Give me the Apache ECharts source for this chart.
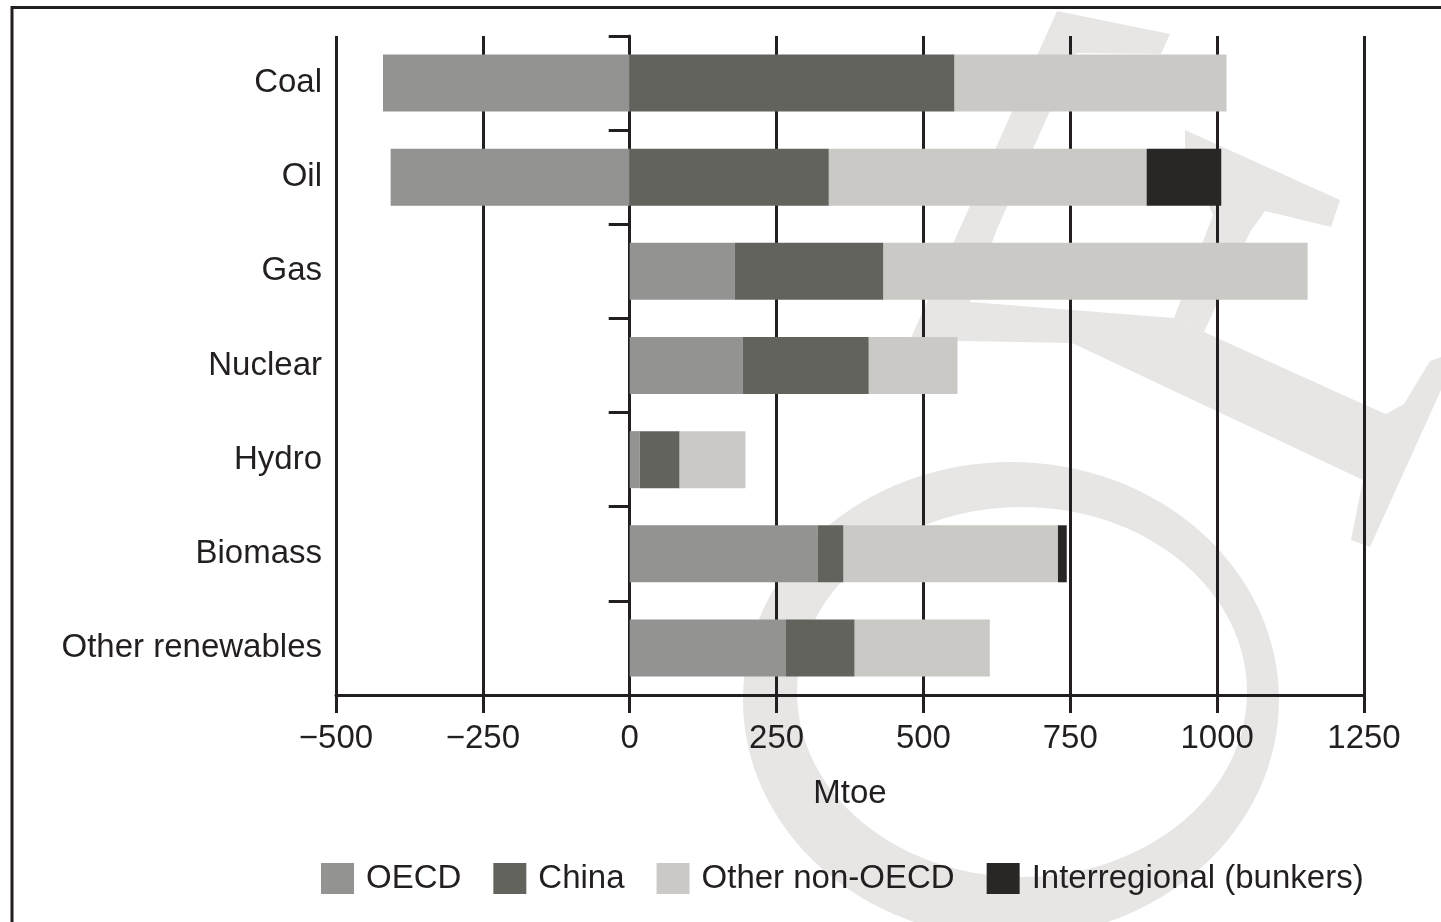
<!DOCTYPE html>
<html>
<head>
<meta charset="utf-8">
<title>Energy demand by fuel and region (Mtoe)</title>
<script src="https://cdn.jsdelivr.net/npm/echarts@6/dist/echarts.min.js"></script>
<style>
  html, body { margin: 0; padding: 0; background: #ffffff; }
  #chart { width: 1441px; height: 922px; }
</style>
</head>
<body>
<div id="chart"></div>
<script>
// Fuels, top to bottom
const categories = ['Coal', 'Oil', 'Gas', 'Nuclear', 'Hydro', 'Biomass', 'Other renewables'];

// Change by region, Mtoe
const oecd = [-420, -407, 179, 192, 17, 320, 266];
const china = [553, 339, 253, 215, 68, 44, 117];
const otherNonOecd = [463, 541, 722, 151, 112, 365, 230];
const bunkers = [0, 127, 0, 0, 0, 15, 0];

// Value axis range and tick step
const axisMin = -500;
const axisMax = 1250;
const axisStep = 250;

const seriesNames = ['OECD', 'China', 'Other non-OECD', 'Interregional (bunkers)'];
const seriesColors = ['#939391', '#63635e', '#cac9c5', '#282725'];

const ink = '#231f20';
const fontFamily = '"Liberation Sans", Arial, Helvetica, sans-serif';
const wm = '#e7e6e4';

const chart = echarts.init(document.getElementById('chart'), null, { renderer: 'canvas' });

const makeBar = (name, values, color) => ({
  name: name,
  type: 'bar',
  stack: 'total',
  data: values,
  barWidth: 57,
  itemStyle: { color: color },
  emphasis: { disabled: true },
  silent: true
});

chart.setOption({
  animation: false,
  backgroundColor: '#ffffff',
  textStyle: { fontFamily: fontFamily, color: ink },
  graphic: [
    // faint background emblem
    { type: 'circle', z: -10, silent: true, x: 1011, y: 700, scaleY: 238 / 268,
      shape: { cx: 0, cy: 0, r: 268 }, style: { fill: wm } },
    { type: 'circle', z: -9, silent: true, x: 1022, y: 692, scaleY: 185 / 225,
      shape: { cx: 0, cy: 0, r: 225 }, style: { fill: '#ffffff' } },
    { type: 'polygon', z: -9, silent: true,
      shape: { points: [[1057, 11], [1170, 34], [1161, 54], [1076, 53], [997, 229], [970, 302],
        [1174, 318], [1204, 332], [1363, 404], [1386, 414], [1404, 404], [1430, 361], [1441, 357],
        [1441, 390], [1370, 547], [1351, 540], [1363, 480], [1072, 343], [910, 340]] },
      style: { fill: wm } },
    { type: 'polygon', z: -9, silent: true,
      shape: { points: [[1185, 130], [1340, 200], [1331, 227], [1265, 211], [1250, 232], [1204, 332],
        [1174, 318], [1213, 215], [1185, 150]] },
      style: { fill: wm } },
    // page frame
    { type: 'rect', z: 10, silent: true,
      shape: { x: 12, y: 7.5, width: 1500, height: 1000 },
      style: { fill: null, stroke: ink, lineWidth: 3 } }
  ],
  grid: { left: 336, right: 77, top: 36, bottom: 227, containLabel: false, outerBoundsMode: 'none' },
  legend: {
    left: 321,
    top: 862,
    padding: 0,
    itemWidth: 33,
    itemHeight: 31,
    itemGap: 32,
    icon: 'rect',
    selectedMode: false,
    data: seriesNames,
    textStyle: { fontSize: 33, color: ink, fontFamily: fontFamily, padding: [0, 0, 0, 7] }
  },
  xAxis: {
    type: 'value',
    min: axisMin,
    max: axisMax,
    interval: axisStep,
    name: 'Mtoe',
    nameLocation: 'middle',
    nameGap: 82,
    nameTextStyle: { fontSize: 33, color: ink, fontFamily: fontFamily },
    axisLine: { show: true, lineStyle: { color: ink, width: 3 } },
    axisTick: { show: true, length: 18, lineStyle: { color: ink, width: 3 } },
    axisLabel: {
      fontSize: 33, color: ink, fontFamily: fontFamily, margin: 27,
      formatter: v => (v < 0 ? '\u2212' + Math.abs(v) : String(v))
    },
    splitLine: { show: true, showMinLine: true, showMaxLine: true, lineStyle: { color: ink, width: 3 } }
  },
  yAxis: {
    type: 'category',
    inverse: true,
    data: categories,
    axisLine: { show: true, onZero: true, lineStyle: { color: ink, width: 3 } },
    axisTick: { show: true, length: 21, lineStyle: { color: ink, width: 3 } },
    axisLabel: { fontSize: 33, color: ink, fontFamily: fontFamily, margin: 14 },
    splitLine: { show: false }
  },
  series: [
    makeBar(seriesNames[0], oecd, seriesColors[0]),
    makeBar(seriesNames[1], china, seriesColors[1]),
    makeBar(seriesNames[2], otherNonOecd, seriesColors[2]),
    makeBar(seriesNames[3], bunkers, seriesColors[3])
  ]
});
</script>
</body>
</html>
